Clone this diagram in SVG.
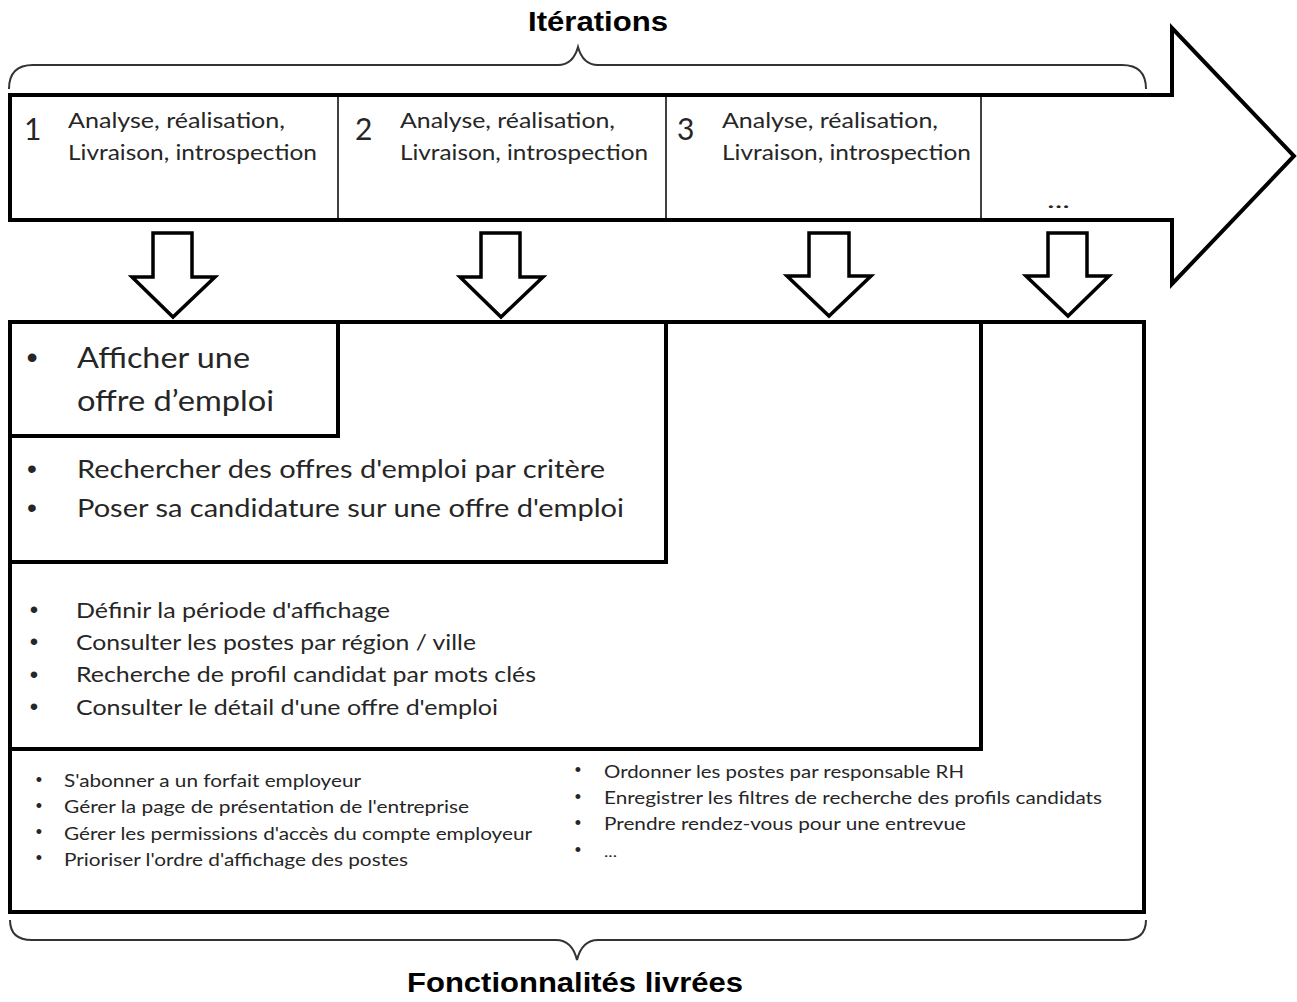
<svg xmlns="http://www.w3.org/2000/svg" width="1297" height="1002" viewBox="0 0 1297 1002">
<style>
.t{font-family:Lato,"Liberation Sans",sans-serif;fill:#262626}
.h{font-family:"Liberation Sans",Arial,sans-serif;font-weight:bold;fill:#000;font-size:28px}
.b{font-family:"Liberation Sans",Arial,sans-serif;fill:#262626;text-anchor:middle}
.brace{fill:none;stroke:#333;stroke-width:2}
.blk{fill:#fff;stroke:#000;stroke-width:4;stroke-linejoin:miter}
.div{stroke:#000;stroke-width:1.5}
.da{fill:#fff;stroke:#000;stroke-width:3.5;stroke-linejoin:miter}
.ln{fill:none;stroke:#000;stroke-width:4;stroke-linecap:square}
</style>
<rect width="1297" height="1002" fill="#fff"/>

<g id="titre-iterations">
<path class="brace" d="M9 89 Q9 65 33 65 L558 65 Q573 65 578 47 Q583 65 598 65 L1122 65 Q1146 65 1146 89"/>
<text class="h" x="528" y="31" textLength="140" lengthAdjust="spacingAndGlyphs">Itérations</text>
</g>

<g id="fleche-iterations">
<path class="blk" d="M10 95 L1172 95 L1172 28 L1294 156 L1172 284 L1172 220 L10 220 Z"/>
<line class="div" x1="338" y1="95" x2="338" y2="220"/>
<line class="div" x1="666" y1="95" x2="666" y2="220"/>
<line class="div" x1="981" y1="95" x2="981" y2="220"/>
</g>

<g id="iteration-1">
<text class="t" x="24" y="140" font-size="30">1</text>
<text class="t" x="68" y="128" font-size="21" textLength="217" lengthAdjust="spacingAndGlyphs">Analyse, réalisation,</text>
<text class="t" x="68" y="160" font-size="21" textLength="249" lengthAdjust="spacingAndGlyphs">Livraison, introspection</text>
</g>
<g id="iteration-2">
<text class="t" x="355" y="140" font-size="30">2</text>
<text class="t" x="400" y="128" font-size="21" textLength="215" lengthAdjust="spacingAndGlyphs">Analyse, réalisation,</text>
<text class="t" x="400" y="160" font-size="21" textLength="248" lengthAdjust="spacingAndGlyphs">Livraison, introspection</text>
</g>
<g id="iteration-3">
<text class="t" x="677" y="140" font-size="30">3</text>
<text class="t" x="722" y="128" font-size="21" textLength="216" lengthAdjust="spacingAndGlyphs">Analyse, réalisation,</text>
<text class="t" x="722" y="160" font-size="21" textLength="249" lengthAdjust="spacingAndGlyphs">Livraison, introspection</text>
</g>
<g id="iteration-n">
<text class="t" x="1047" y="208" font-size="21" textLength="23" lengthAdjust="spacingAndGlyphs">...</text>
</g>

<g id="connecteurs">
<path class="da" d="M153 233 L192 233 L192 277 L215 277 L173 317 L132 277 L153 277 Z"/>
<path class="da" d="M481 233 L520 233 L520 277 L543 277 L501 317 L460 277 L481 277 Z"/>
<path class="da" d="M809 233 L849 233 L849 276 L871 276 L829 316 L787 276 L809 276 Z"/>
<path class="da" d="M1048 233 L1087 233 L1087 276 L1109 276 L1068 316 L1026 276 L1048 276 Z"/>
</g>

<g id="fonctionnalites">
<rect class="ln" x="10" y="322" width="1134" height="590"/>
</g>

<g id="livraison-1">
<path class="ln" d="M10 436 L338 436 L338 322"/>
<text class="b" x="32" y="368" font-size="32">•</text>
<text class="t" x="77" y="368" font-size="29" textLength="173" lengthAdjust="spacingAndGlyphs">Afficher une</text>
<text class="t" x="77" y="411" font-size="29" textLength="197" lengthAdjust="spacingAndGlyphs">offre d’emploi</text>
</g>

<g id="livraison-2">
<path class="ln" d="M10 562 L666 562 L666 322"/>
<text class="b" x="32" y="478" font-size="28">•</text>
<text class="t" x="77" y="478" font-size="25" textLength="528" lengthAdjust="spacingAndGlyphs">Rechercher des offres d'emploi par critère</text>
<text class="b" x="32" y="517" font-size="28">•</text>
<text class="t" x="77" y="517" font-size="25" textLength="547" lengthAdjust="spacingAndGlyphs">Poser sa candidature sur une offre d'emploi</text>
</g>

<g id="livraison-3">
<path class="ln" d="M10 749 L981 749 L981 322"/>
<g class="b" font-size="24">
<text x="34" y="618">•</text>
<text x="34" y="650">•</text>
<text x="34" y="683">•</text>
<text x="34" y="715">•</text>
</g>
<text class="t" x="76" y="618" font-size="21" textLength="314" lengthAdjust="spacingAndGlyphs">Définir la période d'affichage</text>
<text class="t" x="76" y="650" font-size="21" textLength="400" lengthAdjust="spacingAndGlyphs">Consulter les postes par région / ville</text>
<text class="t" x="76" y="682" font-size="21" textLength="460" lengthAdjust="spacingAndGlyphs">Recherche de profil candidat par mots clés</text>
<text class="t" x="76" y="715" font-size="21" textLength="422" lengthAdjust="spacingAndGlyphs">Consulter le détail d'une offre d'emploi</text>
</g>

<g id="livraison-n">
<g class="b" font-size="18">
<text x="39" y="786">•</text>
<text x="39" y="812">•</text>
<text x="39" y="838">•</text>
<text x="39" y="864">•</text>
<text x="578" y="776">•</text>
<text x="578" y="803">•</text>
<text x="578" y="829">•</text>
<text x="578" y="856">•</text>
</g>
<text class="t" x="64" y="787" font-size="17" textLength="297" lengthAdjust="spacingAndGlyphs">S'abonner a un forfait employeur</text>
<text class="t" x="64" y="813" font-size="17" textLength="405" lengthAdjust="spacingAndGlyphs">Gérer la page de présentation de l'entreprise</text>
<text class="t" x="64" y="840" font-size="17" textLength="468" lengthAdjust="spacingAndGlyphs">Gérer les permissions d'accès du compte employeur</text>
<text class="t" x="64" y="866" font-size="17" textLength="344" lengthAdjust="spacingAndGlyphs">Prioriser l'ordre d'affichage des postes</text>
<text class="t" x="604" y="778" font-size="17" textLength="360" lengthAdjust="spacingAndGlyphs">Ordonner les postes par responsable RH</text>
<text class="t" x="604" y="804" font-size="17" textLength="498" lengthAdjust="spacingAndGlyphs">Enregistrer les filtres de recherche des profils candidats</text>
<text class="t" x="604" y="830" font-size="17" textLength="362" lengthAdjust="spacingAndGlyphs">Prendre rendez-vous pour une entrevue</text>
<text class="t" x="604" y="857" font-size="13" textLength="13" lengthAdjust="spacingAndGlyphs">...</text>
</g>

<g id="titre-fonctionnalites">
<path class="brace" d="M10 920 Q10 940 32 940 L556 940 Q572 940 577 960 Q582 940 598 940 L1124 940 Q1146 940 1146 920"/>
<text class="h" x="407" y="992" textLength="336" lengthAdjust="spacingAndGlyphs">Fonctionnalités livrées</text>
</g>
</svg>
